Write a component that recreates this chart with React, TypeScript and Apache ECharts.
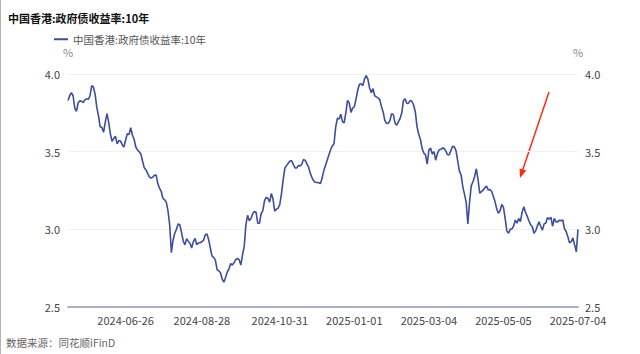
import React, { useEffect, useRef } from 'react';
import * as echarts from 'echarts';

const chartTitle = '中国香港:政府债收益率:10年';
const seriesName = '中国香港:政府债收益率:10年';
const sourceText = '数据来源：同花顺iFinD';
const startDate = '2024-05-09';
const endDate = '2025-07-04';
const tickLabels = ['2024-06-26', '2024-08-28', '2024-10-31', '2025-01-01', '2025-03-04', '2025-05-05', '2025-07-04'];
const yMin = 2.5;
const yMax = 4.0;
const yStep = 0.5;

const yieldValues = [
  3.83, 3.86, 3.88, 3.86, 3.78, 3.76, 3.815, 3.827, 3.825, 3.815,
  3.835, 3.84, 3.837, 3.86, 3.925, 3.915, 3.87, 3.785, 3.73, 3.66,
  3.655, 3.625, 3.69, 3.745, 3.69, 3.615, 3.566, 3.585, 3.60, 3.55,
  3.572, 3.568, 3.545, 3.53, 3.575, 3.615, 3.61, 3.655, 3.607, 3.58,
  3.53, 3.511, 3.50, 3.485, 3.44, 3.396, 3.383, 3.36, 3.338, 3.33,
  3.336, 3.348, 3.35, 3.294, 3.266, 3.245, 3.20, 3.19, 3.175, 3.12,
  3.03, 2.85, 2.93, 2.975, 3.00, 3.035, 3.03, 2.98, 2.925, 2.90,
  2.94, 2.922, 2.91, 2.88, 2.921, 2.942, 2.90, 2.914, 2.914, 2.92,
  2.93, 2.965, 2.97, 2.935, 2.88, 2.828, 2.82, 2.80, 2.74, 2.733,
  2.72, 2.68, 2.66, 2.69, 2.725, 2.745, 2.78, 2.77, 2.785, 2.805,
  2.812, 2.805, 2.77, 2.835, 2.89, 3.03, 3.09, 3.055, 3.07, 3.10,
  3.115, 3.11, 3.039, 3.039,
  3.102, 3.12, 3.185, 3.205, 3.20, 3.175, 3.23, 3.195, 3.117, 3.13,
  3.137, 3.16, 3.23, 3.32, 3.395, 3.41, 3.425, 3.44, 3.442, 3.417,
  3.395, 3.395, 3.411, 3.408, 3.42, 3.45, 3.444, 3.421, 3.40, 3.36,
  3.333, 3.312, 3.303, 3.302, 3.30, 3.295, 3.33, 3.38, 3.412, 3.446,
  3.48, 3.512, 3.537, 3.551, 3.66, 3.715, 3.71, 3.741, 3.693, 3.685,
  3.752, 3.83, 3.814, 3.753, 3.78, 3.788, 3.84, 3.895, 3.934, 3.937,
  3.925, 3.968, 3.99, 3.967, 3.91, 3.879, 3.906, 3.86, 3.853, 3.846,
  3.835, 3.79, 3.756, 3.70, 3.683, 3.682, 3.70, 3.745, 3.74, 3.685,
  3.67, 3.692, 3.714, 3.75, 3.83, 3.84, 3.81, 3.812, 3.83, 3.823,
  3.80, 3.755, 3.66, 3.612, 3.58, 3.52, 3.491, 3.48, 3.42, 3.51,
  3.523, 3.485, 3.50, 3.445, 3.487, 3.511,
  3.515, 3.523, 3.521, 3.503, 3.48, 3.48, 3.508, 3.534, 3.531, 3.507,
  3.44, 3.375, 3.35, 3.275, 3.225, 3.175, 3.035, 3.175, 3.28, 3.306,
  3.34, 3.39, 3.32, 3.233, 3.243, 3.252, 3.268, 3.278, 3.254, 3.256,
  3.245, 3.213, 3.18, 3.132, 3.103, 3.12, 3.16, 3.143, 3.07, 2.99,
  2.975, 3.0, 3.003, 3.02, 3.06, 3.04, 3.07, 3.05, 3.11, 3.145,
  3.11, 3.085, 3.055, 3.03, 3.018, 2.975, 2.99, 3.022, 3.048, 3.02,
  2.995, 3.035, 3.041, 3.076, 3.065, 3.078, 3.02, 3.07, 3.048, 3.048,
  3.059, 3.056, 3.06, 3.005, 2.986, 2.953, 2.914, 2.92, 2.945, 2.9,
  2.855, 3.0,
];

function tradingDays(start: string, end: string): string[] {
  const out: string[] = [];
  const d = new Date(start + 'T00:00:00Z');
  const e = new Date(end + 'T00:00:00Z');
  while (d.getTime() <= e.getTime()) {
    const w = d.getUTCDay();
    if (w !== 0 && w !== 6) out.push(d.toISOString().slice(0, 10));
    d.setUTCDate(d.getUTCDate() + 1);
  }
  return out;
}

const categories = tradingDays(startDate, endDate);

const FONT = '"Noto Sans CJK SC", "Noto Sans", sans-serif';
const LINE_COLOR = '#3e4e9c';

export default function App() {
  const ref = useRef<HTMLDivElement>(null);
  useEffect(() => {
    document.body.style.margin = '0';
    if (!ref.current) return;
    const chart = echarts.init(ref.current, undefined, { renderer: 'svg' });
    const yAxisBase = {
      type: 'value',
      min: yMin,
      max: yMax,
      interval: yStep,
      name: '%',
      nameLocation: 'end',
      nameGap: 17,
      nameTextStyle: { color: '#8a8a8a', fontSize: 11, fontFamily: FONT },
      axisLine: { show: false },
      axisTick: { show: false },
      axisLabel: {
        color: '#444',
        fontSize: 11,
        lineHeight: 12,
        fontFamily: FONT,
        formatter: (v: number) => v.toFixed(1),
      },
    };
    chart.setOption({
      animation: false,
      backgroundColor: '#fff',
      textStyle: { fontFamily: FONT },
      title: {
        text: chartTitle,
        left: 3,
        top: 7,
        textStyle: { fontSize: 11, fontWeight: 'bold', color: '#111', fontFamily: FONT },
      },
      legend: {
        left: 49,
        top: 29,
        icon: 'rect',
        itemWidth: 14,
        itemHeight: 2,
        itemGap: 10,
        textStyle: { fontSize: 10.5, color: '#555', fontFamily: FONT },
        data: [{ name: seriesName, itemStyle: { color: LINE_COLOR } }],
      },
      grid: { left: 68, right: 62, top: 74, bottom: 47, containLabel: false },
      xAxis: {
        type: 'category',
        boundaryGap: false,
        data: categories,
        axisLine: { lineStyle: { color: '#a9b1ca', width: 2 } },
        axisTick: { show: false },
        splitLine: { show: false },
        axisLabel: {
          interval: (_i: number, v: string) => tickLabels.includes(v),
          color: '#444',
          fontSize: 11,
          lineHeight: 12,
          fontFamily: FONT,
          margin: 7,
          hideOverlap: false,
        },
      },
      yAxis: [
        {
          ...yAxisBase,
          position: 'left',
          axisLabel: { ...yAxisBase.axisLabel, margin: 8 },
          splitLine: { show: true, lineStyle: { color: '#eef0f6', width: 1 } },
        },
        {
          ...yAxisBase,
          position: 'right',
          axisLabel: { ...yAxisBase.axisLabel, margin: 7, padding: [0, 0, 2, 0] },
          splitLine: { show: false },
        },
      ],
      series: [
        {
          name: seriesName,
          type: 'line',
          yAxisIndex: 0,
          data: yieldValues,
          symbol: 'none',
          showSymbol: false,
          lineStyle: { color: LINE_COLOR, width: 1.6 },
          itemStyle: { color: LINE_COLOR },
        },
      ],
      graphic: [
        {
          type: 'rect',
          shape: { x: 0, y: 0, width: 1, height: 354 },
          style: { fill: '#b4b4b4' },
          silent: true,
        },
        {
          type: 'text',
          left: 6,
          top: 337,
          style: { text: sourceText, fill: '#666', font: '10.5px ' + FONT },
        },
        {
          type: 'line',
          shape: { x1: 549, y1: 92, x2: 522, y2: 172 },
          style: { stroke: '#ff2a1a', lineWidth: 1.5 },
        },
        {
          type: 'polygon',
          shape: { points: [[520, 178], [526.2, 170.6], [519.6, 168.4]] },
          style: { fill: '#ff2a1a' },
        },
      ],
    });
    return () => chart.dispose();
  }, []);
  return <div ref={ref} style={{ width: 640, height: 354, position: 'absolute', left: 0, top: 0 }} />;
}
